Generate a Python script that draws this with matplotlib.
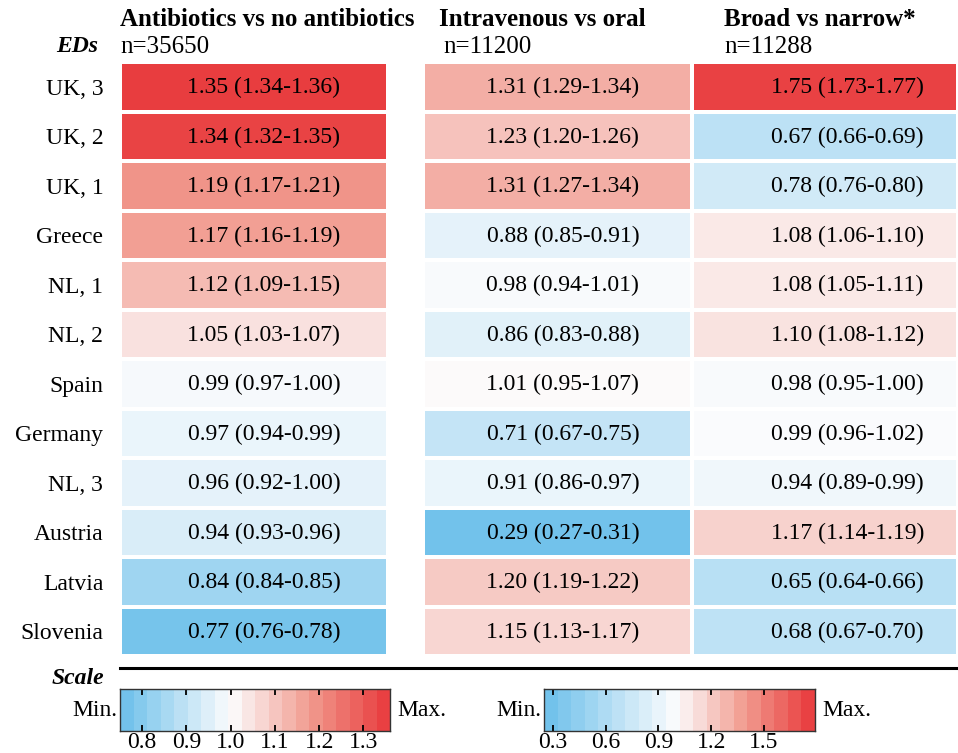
import numpy as np
import matplotlib
matplotlib.use('Agg')
import matplotlib.pyplot as plt
from matplotlib.colors import LinearSegmentedColormap, TwoSlopeNorm

plt.rcParams['font.family'] = ['Liberation Serif', 'DejaVu Serif']

# Emergency departments (rows, top to bottom)
eds = ['UK, 3', 'UK, 2', 'UK, 1', 'Greece', 'NL, 1', 'NL, 2', 'Spain',
       'Germany', 'NL, 3', 'Austria', 'Latvia', 'Slovenia']

# Antibiotics vs no antibiotics
abx_or = [1.35, 1.34, 1.19, 1.17, 1.12, 1.05, 0.99, 0.97, 0.96, 0.94, 0.84, 0.77]
abx_lo = [1.34, 1.32, 1.17, 1.16, 1.09, 1.03, 0.97, 0.94, 0.92, 0.93, 0.84, 0.76]
abx_hi = [1.36, 1.35, 1.21, 1.19, 1.15, 1.07, 1.00, 0.99, 1.00, 0.96, 0.85, 0.78]

# Intravenous vs oral
iv_or = [1.31, 1.23, 1.31, 0.88, 0.98, 0.86, 1.01, 0.71, 0.91, 0.29, 1.20, 1.15]
iv_lo = [1.29, 1.20, 1.27, 0.85, 0.94, 0.83, 0.95, 0.67, 0.86, 0.27, 1.19, 1.13]
iv_hi = [1.34, 1.26, 1.34, 0.91, 1.01, 0.88, 1.07, 0.75, 0.97, 0.31, 1.22, 1.17]

# Broad vs narrow
broad_or = [1.75, 0.67, 0.78, 1.08, 1.08, 1.10, 0.98, 0.99, 0.94, 1.17, 0.65, 0.68]
broad_lo = [1.73, 0.66, 0.76, 1.06, 1.05, 1.08, 0.95, 0.96, 0.89, 1.14, 0.64, 0.67]
broad_hi = [1.77, 0.69, 0.80, 1.10, 1.11, 1.12, 1.00, 1.02, 0.99, 1.19, 0.66, 0.70]

titles = ['Antibiotics vs no antibiotics', 'Intravenous vs oral', 'Broad vs narrow*']
n_labels = ['n=35650', 'n=11200', 'n=11288']

# colour scale ranges (min, centre, max)
scale1 = (0.75, 1.0, 1.36)
scale2 = (0.25, 1.0, 1.79)
ticks1 = [0.8, 0.9, 1.0, 1.1, 1.2, 1.3]
ticks2 = [0.3, 0.6, 0.9, 1.2, 1.5]

W, H = 958, 753
FS = 17

cmap = LinearSegmentedColormap.from_list(
    'ed_scale', [(0.0, '#6BBFEA'), (0.5, '#FCFCFD'), (0.75, '#F19A8E'), (1.0, '#E8383B')])


def px(x0, y0, x1, y1):
    # pixel box -> figure fraction rect
    return [x0 / W, 1 - y1 / H, (x1 - x0) / W, (y1 - y0) / H]


fig = plt.figure(figsize=(W / 100, H / 100), dpi=100)

columns = [
    (abx_or, abx_lo, abx_hi, scale1, (120, 388), (120, 120), 0.537),
    (iv_or, iv_lo, iv_hi, scale2, (423, 692), (439, 443), 0.52),
    (broad_or, broad_lo, broad_hi, scale2, (692, 958), (724, 724), 0.585),
]

for k, (vals, lo, hi, sc, (x0, x1), (tx, nx), txt_x) in enumerate(columns):
    ax = fig.add_axes(px(x0, 62, x1, 656))
    norm = TwoSlopeNorm(vmin=sc[0], vcenter=sc[1], vmax=sc[2])
    data = np.array(vals).reshape(-1, 1)
    ax.pcolormesh(np.arange(2), np.arange(len(eds) + 1), data, cmap=cmap, norm=norm,
                  edgecolors='white', linewidth=1.6)
    ax.set_xlim(0, 1)
    ax.set_ylim(len(eds), 0)
    for s in ax.spines.values():
        s.set_visible(False)
    ax.set_xticks([])
    if k == 0:
        ax.set_yticks(np.arange(len(eds)) + 0.5)
        ax.set_yticklabels(eds, fontsize=FS)
        ax.tick_params(axis='y', length=0, pad=12)
    else:
        ax.set_yticks([])
    for i, (v, l, h) in enumerate(zip(vals, lo, hi)):
        ax.text(txt_x, i + 0.52, f'{v:.2f} ({l:.2f}-{h:.2f})', transform=ax.get_yaxis_transform(),
                ha='center', va='center', fontsize=FS)
    fig.text(tx / W, 1 - 20 / H, titles[k], fontsize=FS + 1, fontweight='bold',
             ha='left', va='center')
    fig.text(nx / W, 1 - 47 / H, n_labels[k], fontsize=FS + 1, ha='left', va='center')

fig.text(98 / W, 1 - 47 / H, 'EDs', fontsize=FS, fontweight='bold', style='italic',
         ha='right', va='center')

# separator line
fig.add_artist(plt.Line2D([120 / W, 1.0], [1 - 668 / H, 1 - 668 / H], color='black',
                          linewidth=2.2, transform=fig.transFigure))
fig.text(104 / W, 1 - 679 / H, 'Scale', fontsize=FS, fontweight='bold', style='italic',
         ha='right', va='center')

# colour scale bars
for sc, ticks, (x0, x1) in [(scale1, ticks1, (120, 390)), (scale2, ticks2, (544, 815))]:
    cax = fig.add_axes(px(x0, 689, x1, 731))
    norm = TwoSlopeNorm(vmin=sc[0], vcenter=sc[1], vmax=sc[2])
    edges = np.linspace(sc[0], sc[2], 21)
    mids = (edges[:-1] + edges[1:]) / 2
    cax.pcolormesh(edges, [0, 1], mids.reshape(1, -1), cmap=cmap, norm=norm)
    cax.set_xlim(sc[0], sc[2])
    cax.set_ylim(0, 1)
    cax.set_yticks([])
    cax.set_xticks(ticks)
    cax.set_xticklabels([f'{t:.1f}' for t in ticks], fontsize=FS)
    cax.tick_params(axis='x', direction='in', top=True, bottom=True, length=4,
                    width=1.3, pad=0.5)
    for s in cax.spines.values():
        s.set_linewidth(1.0)
        s.set_color('#333333')
    fig.text((x0 - 3) / W, 1 - 710 / H, 'Min.', fontsize=FS, ha='right', va='center')
    fig.text((x1 + 7) / W, 1 - 710 / H, 'Max.', fontsize=FS, ha='left', va='center')

fig.savefig('out.png', dpi=100)
